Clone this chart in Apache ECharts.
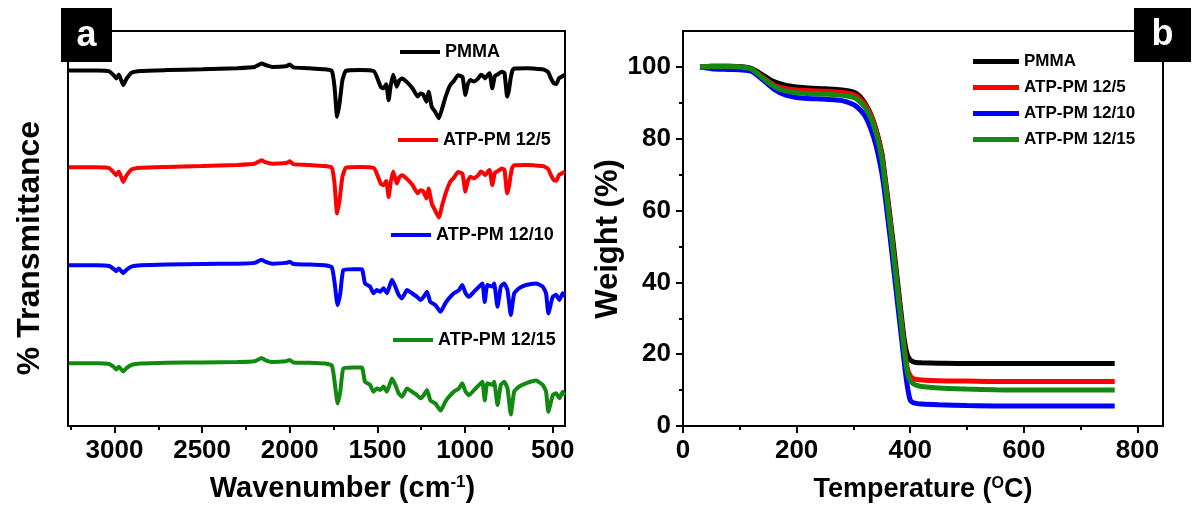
<!DOCTYPE html>
<html><head><meta charset="utf-8">
<script src="https://cdn.jsdelivr.net/npm/echarts@6/dist/echarts.min.js"></script>
<style>html,body{margin:0;padding:0;background:#fff}#c{width:1195px;height:508px}</style>
</head><body><div id="c"></div>
<script>
// ---------- Panel a : FTIR (stacked, arbitrary transmittance units) ----------
const wnPM = [
 3260, 3100, 3030, 3000, 2990, 2975, 2950, 2930, 2900, 2850,
 2700, 2500, 2300, 2200, 2160, 2140, 2100, 2020, 2000, 1980,
 1900, 1800, 1760, 1745, 1730, 1715, 1700, 1680, 1600, 1520,
 1500, 1480, 1465, 1450, 1436, 1425, 1410, 1390, 1375, 1360,
 1330, 1300, 1270, 1255, 1240, 1220, 1208, 1190, 1170, 1150,
 1130, 1110, 1085, 1065, 1040, 1015, 998, 985, 970, 950,
 925, 910, 895, 885, 870, 860, 845, 830, 815, 790,
 775, 760, 750, 740, 730, 720, 650, 560, 540, 525,
 510, 495, 480, 465, 450, 430
];
const pmmaT = [
 90.0, 90.0, 89.8, 88.6, 88.0, 89.0, 86.3, 88.0, 89.5, 89.9,
 90.1, 90.3, 90.6, 90.9, 91.8, 91.4, 90.9, 91.1, 91.5, 90.8,
 90.6, 90.3, 89.9, 86.0, 78.3, 82.0, 87.5, 89.9, 90.1, 89.8,
 88.0, 85.8, 85.5, 86.5, 82.5, 86.0, 88.9, 85.9, 87.5, 88.0,
 87.0, 85.5, 83.4, 84.2, 84.0, 82.1, 84.6, 80.8, 79.5, 77.9,
 80.5, 83.5, 86.3, 87.3, 88.8, 88.4, 83.8, 86.5, 87.6, 87.2,
 88.0, 88.9, 88.5, 88.0, 88.9, 89.3, 85.5, 88.6, 89.0, 89.7,
 89.3, 83.4, 85.0, 88.0, 90.0, 90.5, 90.6, 90.3, 90.0, 89.5,
 88.0, 86.8, 86.6, 88.0, 88.4, 88.9
];
const atp5T = [
 65.5, 65.5, 65.3, 64.0, 63.5, 64.4, 61.8, 63.5, 65.0, 65.4,
 65.6, 65.8, 66.1, 66.4, 67.3, 66.8, 66.4, 66.6, 67.0, 66.3,
 66.1, 65.8, 65.4, 61.5, 53.8, 57.5, 63.0, 65.4, 65.6, 65.3,
 63.5, 61.3, 61.0, 62.0, 58.0, 61.5, 64.4, 61.4, 63.0, 63.5,
 62.5, 61.0, 58.9, 59.7, 59.5, 57.6, 60.1, 56.3, 54.5, 52.8,
 56.0, 59.0, 61.8, 62.8, 64.3, 63.9, 59.3, 62.0, 63.1, 62.7,
 63.5, 64.4, 64.0, 63.5, 64.4, 64.8, 61.0, 64.1, 64.5, 65.2,
 64.8, 58.9, 60.5, 63.5, 65.5, 66.0, 66.1, 65.8, 65.5, 65.0,
 63.5, 62.3, 62.1, 63.5, 63.9, 64.4
];
const wnATP = [
 3260, 3100, 3030, 3000, 2990, 2975, 2950, 2930, 2900, 2850,
 2700, 2500, 2300, 2200, 2160, 2140, 2100, 2020, 2000, 1980,
 1900, 1800, 1760, 1745, 1727, 1712, 1694, 1640, 1589, 1571,
 1542, 1523, 1503, 1484, 1465, 1446, 1417, 1398, 1379, 1360,
 1331, 1303, 1274, 1255, 1236, 1217, 1198, 1169, 1140, 1112,
 1092, 1064, 1035, 1016, 997, 978, 949, 920, 901, 888,
 873, 844, 834, 815, 796, 777, 758, 739, 720, 691,
 653, 596, 557, 538, 525, 500, 481, 462, 443, 433
];
const atp10T = [
 40.7, 40.7, 40.5, 39.6, 39.2, 39.9, 38.7, 39.6, 40.4, 40.7,
 40.9, 41.0, 41.1, 41.3, 42.1, 41.6, 41.1, 41.3, 41.6, 41.0,
 40.9, 40.7, 40.2, 36.5, 30.6, 33.5, 39.5, 39.7, 39.7, 36.1,
 35.3, 33.6, 34.4, 34.0, 34.9, 33.6, 37.0, 35.3, 33.2, 32.3,
 34.4, 33.6, 32.7, 31.9, 32.7, 34.0, 31.4, 30.6, 28.9, 31.1,
 32.3, 33.6, 34.4, 35.7, 33.6, 32.7, 34.0, 35.3, 36.1, 31.4,
 35.7, 35.3, 36.1, 30.2, 35.3, 36.1, 34.4, 28.1, 33.6, 34.9,
 35.7, 36.1, 35.3, 33.6, 28.5, 32.7, 33.2, 31.9, 33.6, 32.7
];
const atp15T = [
 15.9, 15.9, 15.7, 14.8, 14.3, 15.0, 13.8, 14.7, 15.5, 15.8,
 16.0, 16.1, 16.2, 16.4, 17.2, 16.7, 16.2, 16.4, 16.7, 16.1,
 16.0, 15.8, 15.3, 11.5, 5.7, 8.6, 14.6, 14.8, 14.8, 11.2,
 10.4, 8.7, 9.5, 9.1, 10.0, 8.7, 12.0, 10.4, 8.3, 7.4,
 9.5, 8.7, 7.8, 7.0, 7.8, 9.1, 6.5, 5.7, 3.9, 6.2,
 7.4, 8.7, 9.5, 10.8, 8.7, 7.8, 9.1, 10.4, 11.2, 6.5,
 10.8, 10.4, 11.2, 5.3, 10.4, 11.2, 9.5, 2.9, 8.7, 10.0,
 10.8, 11.5, 10.4, 8.7, 3.6, 7.8, 8.3, 7.0, 8.7, 7.8
];
const irMajorTicks = [3000, 2500, 2000, 1500, 1000, 500];
const irMinorTicks = [3250, 2750, 2250, 1750, 1250, 750];

// ---------- Panel b : TGA ----------
const temps = [
 30, 50, 80, 100, 120, 140, 160, 180, 200, 220,
 250, 280, 300, 310, 320, 330, 340, 350, 355, 360,
 365, 370, 375, 380, 385, 390, 395, 400, 405, 410,
 420, 450, 500, 550, 600, 650, 700, 760
];
const pmmaW = [
 100.0, 100.2, 100.2, 100.1, 99.6, 97.8, 95.9, 94.9, 94.4, 94.1,
 93.9, 93.6, 93.0, 92.0, 90.0, 87.0, 82.5, 76.0, 70.0, 64.0,
 57.5, 51.0, 44.0, 37.0, 30.0, 23.5, 19.8, 18.4, 17.9, 17.7,
 17.6, 17.5, 17.4, 17.4, 17.4, 17.4, 17.4, 17.4
];
const atp5W = [
 100.0, 100.2, 100.2, 100.0, 99.4, 97.2, 95.0, 94.0, 93.6, 93.4,
 93.2, 92.9, 92.3, 91.3, 89.6, 86.8, 82.3, 75.5, 69.5, 63.0,
 56.5, 49.5, 42.5, 35.5, 28.5, 21.5, 16.0, 14.0, 13.2, 13.0,
 12.8, 12.6, 12.5, 12.4, 12.4, 12.4, 12.4, 12.4
];
const atp10W = [
 100.0, 99.5, 99.3, 99.2, 98.8, 96.5, 93.8, 92.2, 91.5, 91.2,
 91.0, 90.6, 89.5, 88.3, 86.5, 83.0, 78.0, 70.5, 65.0, 58.5,
 52.0, 45.0, 38.0, 31.0, 24.0, 17.0, 11.0, 7.2, 6.5, 6.3,
 6.1, 5.9, 5.7, 5.6, 5.6, 5.6, 5.6, 5.6
];
const atp15W = [
 100.0, 100.1, 100.1, 100.0, 99.4, 97.0, 94.6, 93.3, 92.8, 92.6,
 92.4, 92.1, 91.5, 90.5, 88.8, 86.0, 81.5, 74.5, 68.5, 62.0,
 55.5, 48.5, 41.5, 34.5, 27.5, 20.5, 15.0, 12.6, 11.8, 11.4,
 11.0, 10.6, 10.3, 10.1, 10.0, 10.0, 10.0, 10.0
];
const tgaMajorX = [0, 200, 400, 600, 800];
const tgaMinorX = [100, 300, 500, 700];
const tgaMajorY = [0, 20, 40, 60, 80, 100];
const tgaMinorY = [10, 30, 50, 70, 90];

const names = ['PMMA', 'ATP-PM 12/5', 'ATP-PM 12/10', 'ATP-PM 12/15'];
const colors = ['#000000', '#ff0000', '#0000ff', '#128a12'];

// ---------- build ----------
const FONT = '"Liberation Sans", Arial, sans-serif';
const zip = (xs, ys) => xs.map((x, i) => [x, ys[i]]);
const irData = [zip(wnPM, pmmaT), zip(wnPM, atp5T), zip(wnATP, atp10T), zip(wnATP, atp15T)];
const tgaData = [zip(temps, pmmaW), zip(temps, atp5W), zip(temps, atp10W), zip(temps, atp15W)];

const lbl = {color: '#000', fontFamily: FONT, fontWeight: 'bold', fontSize: 26, formatter: v => String(v)};
const axisLineStyle = {show: true, lineStyle: {color: '#000', width: 2}};
const nameStyle = (size, extra) => Object.assign({
  color: '#000', fontFamily: FONT, fontWeight: 'bold', fontSize: size,
  rich: {
    t: {fontFamily: FONT, fontWeight: 'bold', fontSize: size, color: '#000'},
    s: {fontFamily: FONT, fontWeight: 'bold', fontSize: Math.round(size * 0.6), color: '#000', verticalAlign: 'top'}
  }
}, extra || {});

const xAxis = [
  { type: 'value', gridIndex: 0, position: 'bottom', min: 430, max: 3265, inverse: true,
    name: '{t|Wavenumber (cm}{s|-1}{t|)}', nameLocation: 'middle', nameGap: 48,
    nameTextStyle: nameStyle(29, {padding: [0, 0, 0, 52]}),
    axisLine: axisLineStyle,
    axisTick: {customValues: irMajorTicks, length: 7, lineStyle: {color: '#000', width: 2}},
    axisLabel: Object.assign({customValues: irMajorTicks, margin: 12}, lbl),
    splitLine: {show: false} },
  { type: 'value', gridIndex: 0, position: 'bottom', min: 430, max: 3265, inverse: true,
    axisLine: {show: false}, axisLabel: {show: false}, splitLine: {show: false},
    axisTick: {customValues: irMinorTicks, length: 4, lineStyle: {color: '#000', width: 2}} },
  { type: 'value', gridIndex: 1, position: 'bottom', min: 0, max: 845,
    name: '{t|Temperature (}{s|O}{t|C)}', nameLocation: 'middle', nameGap: 50,
    nameTextStyle: nameStyle(27),
    axisLine: axisLineStyle,
    axisTick: {customValues: tgaMajorX, length: 7, lineStyle: {color: '#000', width: 2}},
    axisLabel: Object.assign({customValues: tgaMajorX, margin: 12}, lbl),
    splitLine: {show: false} },
  { type: 'value', gridIndex: 1, position: 'bottom', min: 0, max: 845,
    axisLine: {show: false}, axisLabel: {show: false}, splitLine: {show: false},
    axisTick: {customValues: tgaMinorX, length: 4, lineStyle: {color: '#000', width: 2}} }
];
const yAxis = [
  { type: 'value', gridIndex: 0, position: 'left', min: 0, max: 100,
    name: '% Transmittance', nameLocation: 'middle', nameGap: 22,
    nameTextStyle: nameStyle(32, {padding: [0, 39, 0, 0]}),
    axisLine: axisLineStyle, axisTick: {show: false}, axisLabel: {show: false}, splitLine: {show: false} },
  { type: 'value', gridIndex: 1, position: 'left', min: 0, max: 110,
    name: 'Weight (%)', nameLocation: 'middle', nameGap: 58,
    nameTextStyle: nameStyle(31, {padding: [0, 21, 0, 0]}),
    axisLine: axisLineStyle,
    axisTick: {customValues: tgaMajorY, length: 7, lineStyle: {color: '#000', width: 2}},
    axisLabel: Object.assign({customValues: tgaMajorY, margin: 12}, lbl),
    splitLine: {show: false} },
  { type: 'value', gridIndex: 1, position: 'left', min: 0, max: 110,
    axisLine: {show: false}, axisLabel: {show: false}, splitLine: {show: false},
    axisTick: {customValues: tgaMinorY, length: 4, lineStyle: {color: '#000', width: 2}} }
];

const series = [];
names.forEach((n, i) => {
  series.push({ type: 'line', name: n, xAxisIndex: 0, yAxisIndex: 0, data: irData[i],
    symbol: 'none', smooth: 0.15, color: colors[i], lineStyle: {width: 4, color: colors[i]}, z: 3 });
});
names.forEach((n, i) => {
  series.push({ type: 'line', name: n, xAxisIndex: 2, yAxisIndex: 1, data: tgaData[i],
    symbol: 'none', smooth: 0.3, color: colors[i], lineStyle: {width: 5, color: colors[i]}, z: 3 + i });
});

const irLegendTops = [43, 131, 226, 331];
const irLegendLefts = [400, 398, 391, 393];
const legend = names.map((n, i) => ({
  data: [n], left: irLegendLefts[i], top: irLegendTops[i], padding: 0,
  icon: 'rect', itemWidth: 40, itemHeight: 4, selectedMode: false,
  textStyle: {color: '#000', fontFamily: FONT, fontWeight: 'bold', fontSize: 18}
}));
legend.push({ data: names, orient: 'vertical', left: 973, top: 53, padding: 0, itemGap: 9,
  icon: 'rect', itemWidth: 46, itemHeight: 5, selectedMode: false, align: 'left',
  textStyle: {color: '#000', fontFamily: FONT, fontWeight: 'bold', fontSize: 17, lineHeight: 17} });

const option = {
  backgroundColor: '#fff',
  animation: false,
  grid: [
    {left: 68, top: 31, width: 497, height: 395, show: true, borderColor: '#000', borderWidth: 2, backgroundColor: 'transparent'},
    {left: 683, top: 31, width: 480, height: 395, show: true, borderColor: '#000', borderWidth: 2, backgroundColor: 'transparent'}
  ],
  xAxis, yAxis, series, legend,
  graphic: [
    {type: 'rect', x: 61, y: 8, shape: {width: 51, height: 54}, style: {fill: '#000'}, z: 100},
    {type: 'text', x: 86.5, y: 36, z: 101, style: {text: 'a', fill: '#fff', font: 'bold 36px ' + FONT, textAlign: 'center', textVerticalAlign: 'middle'}},
    {type: 'rect', x: 1134, y: 8, shape: {width: 57, height: 54}, style: {fill: '#000'}, z: 100},
    {type: 'text', x: 1162.5, y: 35, z: 101, style: {text: 'b', fill: '#fff', font: 'bold 36px ' + FONT, textAlign: 'center', textVerticalAlign: 'middle'}}
  ]
};
const chart = echarts.init(document.getElementById('c'), null, {renderer: 'canvas'});
chart.setOption(option);
</script></body></html>
